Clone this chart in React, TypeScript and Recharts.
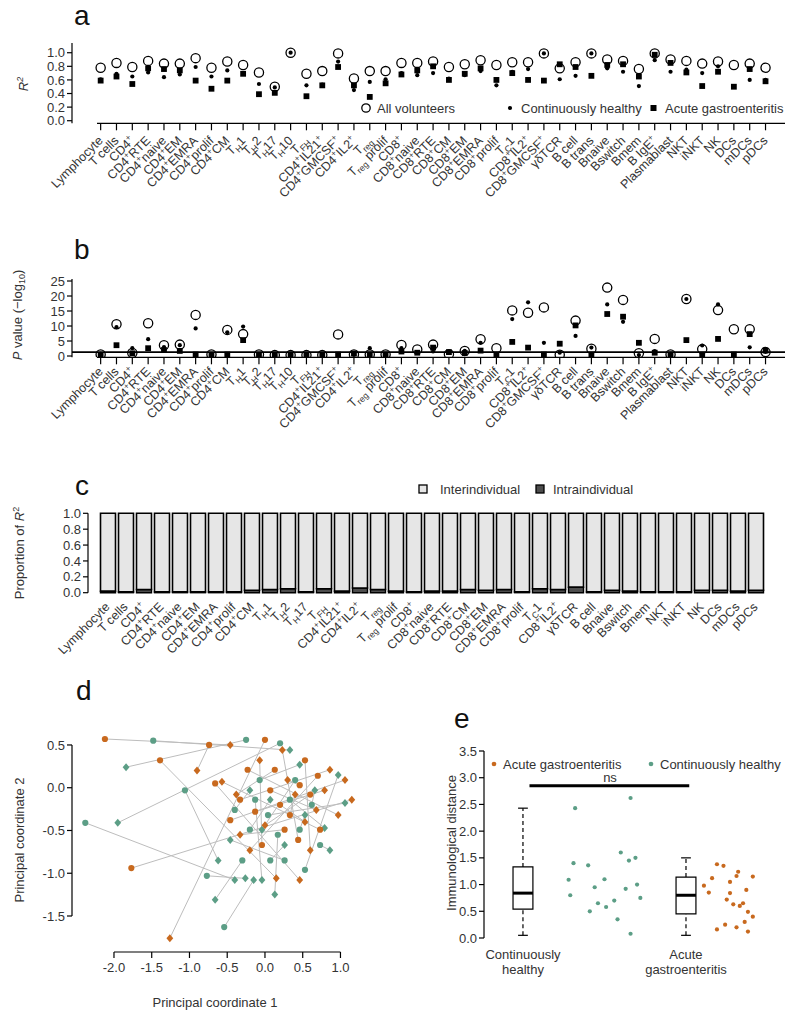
import React from "react";
import { ScatterChart, Scatter, XAxis, YAxis, ReferenceLine, ReferenceArea, BarChart, Bar } from "recharts";

const FONT = '"Liberation Sans", Arial, sans-serif';
const TXT = "#333";
const ORANGE = "#C8691E";
const GREEN = "#5C9E86";

// ---- panel a / b : cell populations ----
const cellsAB = [
  "Lymphocyte", "T cells", "CD4^{+}", "CD4^{+}RTE", "CD4^{+}naive", "CD4^{+}EM", "CD4^{+}EMRA", "CD4^{+}prolif",
  "CD4^{+}CM", "T_{H}1", "T_{H}2", "T_{H}17", "T_{H}10", "T_{FH}", "CD4^{+}IL21^{+}", "CD4^{+}GMCSF^{+}",
  "CD4^{+}IL2^{+}", "T_{reg}", "T_{reg} prolif", "CD8^{+}", "CD8^{+}naive", "CD8^{+}RTE", "CD8^{+}CM", "CD8^{+}EM",
  "CD8^{+}EMRA", "CD8^{+}prolif", "T_{C}1", "CD8^{+}IL2^{+}", "CD8^{+}GMCSF^{+}", "γδTCR", "B cell", "B trans",
  "Bnaive", "Bswitch", "Bmem", "B IgE^{+}", "Plasmablast", "NKT", "iNKT", "NK", "DCs", "mDCs", "pDCs",
];

const r2All = [0.78, 0.85, 0.79, 0.88, 0.84, 0.84, 0.92, 0.78, 0.87, 0.82, 0.71, 0.5, 1.0, 0.69, 0.73, 0.99, 0.62, 0.73, 0.73, 0.85, 0.85, 0.87, 0.79, 0.83, 0.89, 0.82, 0.86, 0.86, 0.99, 0.77, 0.86, 0.99, 0.9, 0.88, 0.76, 0.99, 0.9, 0.88, 0.84, 0.87, 0.82, 0.84, 0.78];
const r2Healthy = [0.61, 0.69, 0.65, 0.71, 0.64, 0.68, 0.79, 0.65, 0.74, 0.7, 0.54, 0.49, 1.0, 0.52, 0.53, 0.87, 0.45, 0.57, 0.61, 0.7, 0.67, 0.7, 0.62, 0.67, 0.73, 0.52, 0.72, 0.76, 0.99, 0.61, 0.66, 0.99, 0.77, 0.72, 0.51, 0.89, 0.72, 0.75, 0.7, 0.8, 0.5, 0.6, 0.6];
const r2Acute = [0.59, 0.65, 0.54, 0.77, 0.76, 0.74, 0.59, 0.47, 0.59, 0.69, 0.39, 0.41, null, 0.36, 0.52, 0.79, 0.52, 0.35, 0.55, 0.68, 0.74, 0.8, 0.6, 0.69, 0.77, 0.6, 0.7, 0.6, 0.59, 0.83, 0.79, 0.66, 0.82, 0.83, 0.65, 0.97, 0.85, 0.71, 0.51, 0.72, 0.5, 0.76, 0.58];

const pAll = [0.5, 10.6, 1.0, 10.9, 3.6, 3.8, 13.7, 0.5, 8.7, 7.3, 0.5, 0.3, 0.3, 0.3, 0.3, 7.2, 0.5, 0.5, 0.5, 3.7, 2.2, 3.8, 0.6, 1.7, 5.6, 2.6, 15.2, 14.4, 16.2, 0.4, 11.8, 2.4, 22.8, 18.7, 0.9, 5.7, 0.5, 19.0, 2.3, 15.3, 8.9, 8.9, 1.3];
const pHealthy = [0.7, 9.6, 2.6, 5.6, 3.0, 3.6, 9.2, 0.4, 7.9, 9.8, 0.4, 0.3, 0.2, 0.3, 0.3, 0.4, 0.4, 2.6, 0.4, 2.6, 1.0, 1.5, 1.3, 1.7, 4.4, 0.5, 12.3, 17.9, 4.4, 1.1, 6.7, 2.8, 17.2, 11.4, 0.3, 1.6, 0.5, 19.0, 3.5, 17.2, 0.5, 2.9, 1.4];
const pAcute = [0.3, 3.6, 0.9, 2.6, 2.0, 1.7, 0.5, 0.4, 0.5, 5.3, 0.4, 0.3, 0.2, 0.3, 0.4, 0.5, 0.8, 0.5, 0.5, 1.5, 1.1, 2.8, 1.3, 1.0, 1.8, 0.5, 4.7, 2.8, 0.5, 4.1, 10.2, 0.5, 14.0, 13.1, 4.4, 1.1, 0.5, 5.3, 0.5, 5.7, 0.5, 7.3, 1.8];
const pThreshold = 1.3;

// ---- panel c ----
const cellsC = [
  "Lymphocyte", "T cells", "CD4^{+}", "CD4^{+}RTE", "CD4^{+}naive", "CD4^{+}EM", "CD4^{+}EMRA", "CD4^{+}prolif",
  "CD4^{+}CM", "T_{H}1", "T_{H}2", "T_{H}17", "T_{FH}", "CD4^{+}IL21^{+}", "CD4^{+}IL2^{+}", "T_{reg}",
  "T_{reg} prolif", "CD8^{+}", "CD8^{+}naive", "CD8^{+}RTE", "CD8^{+}CM", "CD8^{+}EM", "CD8^{+}EMRA", "CD8^{+}prolif",
  "T_{C}1", "CD8^{+}IL2^{+}", "γδTCR", "B cell", "Bnaive", "Bswitch", "Bmem", "NKT", "iNKT", "NK", "DCs", "mDCs", "pDCs",
];
const intraC = [0.02, 0.01, 0.04, 0.01, 0.01, 0.01, 0.01, 0.01, 0.03, 0.04, 0.05, 0.01, 0.05, 0.02, 0.06, 0.04, 0.02, 0.01, 0.02, 0.02, 0.04, 0.03, 0.04, 0.01, 0.05, 0.04, 0.07, 0.01, 0.03, 0.02, 0.01, 0.01, 0.01, 0.03, 0.03, 0.02, 0.03];

// ---- panel d : PCoA, two samples per volunteer ----
const acuteX1 = [-2.12, -0.74, 0.0, -1.39, -0.66, -1.77, -0.33, -0.13, 0.07, 0.2, 0.33, 0.46, 0.6, 0.7, 0.26, -0.04, 0.44, 0.53, -0.23, -0.46, 0.13, 0.73];
const acuteY1 = [0.57, 0.5, 0.56, 0.32, 0.05, -0.94, -0.14, -0.28, -0.03, -0.2, -0.32, 0.03, -0.08, 0.14, -0.49, -0.67, -0.61, 0.32, 0.21, -0.38, 0.21, -0.49];
const acuteX2 = [-0.46, -0.9, -1.26, 0.15, 0.46, 1.15, 0.86, 0.79, 0.68, 0.53, 0.4, 0.3, 0.0, -0.2, -0.33, -0.07, 0.23, 0.6, 0.97, 1.06, -0.38, -0.57];
const acuteY2 = [0.5, 0.2, -1.76, -1.06, -1.08, -0.14, 0.21, -0.03, -0.26, -0.4, -0.08, 0.09, -0.44, -0.73, -0.55, 0.32, 0.44, -0.73, -0.32, 0.09, -0.08, 0.07];
const healthyX1 = [-1.48, -0.25, 0.2, -1.06, -2.38, -0.77, -0.54, -0.13, 0.04, 0.33, 0.46, 0.62, 0.73, 0.07, -0.2, -0.4, -0.07, 0.26, 0.53, 0.4, -0.3, 0.17];
const healthyY1 = [0.55, 0.56, 0.52, -0.03, -0.41, -1.03, -1.63, -0.14, -0.32, -0.14, -0.49, -0.2, -0.67, -0.85, -0.49, -0.26, 0.09, -0.85, -0.96, 0.09, -0.85, -0.55];
const healthyX2 = [0.33, -1.84, -1.95, -0.62, -0.4, -0.26, -0.15, -0.04, 1.06, 0.79, 0.53, 0.66, 0.86, 0.26, 0.07, -0.2, 0.46, -0.46, 0.97, -0.04, -0.66, 0.13];
const healthyY2 = [0.44, 0.24, -0.41, -0.85, -1.08, -1.06, -1.08, -1.08, -0.18, -0.47, -0.32, -0.03, -0.73, -0.67, -0.14, -0.03, 0.27, -0.61, 0.15, -0.49, -1.31, -1.25];

// ---- panel e : immunological distance ----
const groupPos = [1, 2];
const groupLabels = [["Continuously", "healthy"], ["Acute", "gastroenteritis"]];
const boxMin = [0.05, 0.05];
const boxQ1 = [0.54, 0.45];
const boxMed = [0.84, 0.8];
const boxQ3 = [1.33, 1.14];
const boxMax = [2.43, 1.5];
const healthyJx = [1.32, 1.66, 1.28, 1.29, 1.31, 1.4, 1.41, 1.46, 1.5, 1.51, 1.56, 1.6, 1.63, 1.65, 1.69, 1.72, 1.44, 1.66, 1.7, 1.58];
const healthyDist = [2.43, 2.62, 1.09, 0.8, 1.4, 1.36, 0.5, 0.65, 1.1, 0.58, 0.7, 1.6, 0.92, 1.45, 1.5, 0.75, 0.95, 0.08, 1.0, 0.35];
const acuteJx = [2.11, 2.16, 2.19, 2.23, 2.25, 2.27, 2.29, 2.31, 2.32, 2.33, 2.35, 2.37, 2.38, 2.19, 2.24, 2.31, 2.38, 2.41, 2.41, 2.14, 2.27, 2.36];
const acuteDist = [0.98, 1.12, 1.38, 1.35, 0.72, 0.84, 0.63, 1.16, 1.24, 0.6, 0.65, 0.9, 0.49, 0.16, 0.25, 0.2, 0.12, 1.15, 0.4, 0.85, 1.05, 0.3];
const nsY = 2.85;

// ---------- helpers ----------
function Rich({ text, size }: { text: string; size: number }) {
  const parts = text.split(/(\^\{[^}]*\}|_\{[^}]*\})/).filter(Boolean);
  let off = 0;
  return (
    <>
      {parts.map((p, i) => {
        let target = 0, body = p, fs = size;
        if (p.startsWith("^{")) { target = -size * 0.4; body = p.slice(2, -1); fs = size * 0.7; }
        else if (p.startsWith("_{")) { target = size * 0.25; body = p.slice(2, -1); fs = size * 0.7; }
        const dy = target - off;
        off = target;
        return <tspan key={i} dy={dy} fontSize={fs}>{body}</tspan>;
      })}
    </>
  );
}

const rotTick = (labels: string[] | null, dx: number, dy: number) => (props: any) => {
  const { x, y, payload } = props;
  const lab = labels ? labels[payload.value] : payload.value;
  if (lab === undefined) return null;
  return (
    <g transform={`translate(${x + dx},${y + dy})`}>
      <text transform="rotate(-45)" textAnchor="end" fontSize={12.5} fill={TXT} fontFamily={FONT}>
        <Rich text={lab} size={12.5} />
      </text>
    </g>
  );
};

const pts = (xs: number[], ys: (number | null)[]) =>
  xs.map((x, i) => ({ x, y: ys[i] })).filter((d) => d.y !== null);

const idx = cellsAB.map((_, i) => i);

const OpenCircle = (p: any) => <circle cx={p.cx} cy={p.cy} r={4.6} fill="none" stroke="#000" strokeWidth={1.3} />;
const SmallDot = (p: any) => <circle cx={p.cx} cy={p.cy} r={2.1} fill="#000" />;
const Square = (p: any) => <rect x={p.cx - 2.9} y={p.cy - 2.9} width={5.8} height={5.8} fill="#000" />;
const colorCircle = (c: string) => (p: any) => <circle cx={p.cx} cy={p.cy} r={3.1} fill={c} />;
const colorDiamond = (c: string) => (p: any) => (
  <polygon points={`${p.cx},${p.cy - 4} ${p.cx + 3.4},${p.cy} ${p.cx},${p.cy + 4} ${p.cx - 3.4},${p.cy}`} fill={c} />
);
const NoShape = () => <g />;

const yTick = { fontSize: 13, fill: TXT, fontFamily: FONT };
const axisStroke = { stroke: "#000", strokeWidth: 1.2 };

const xDomAB: [number, number] = [-1.81, 43.23];
const yDomA: [number, number] = [-0.038, 1.143];
const yDomB: [number, number] = [-0.43, 25.67];

function PanelAB({ top, yDom, ticks, fmt, all, healthy, acute, xAxisH, marginTop, threshold, labelDy }: any) {
  return (
    <div style={{ position: "absolute", left: 0, top }}>
      <ScatterChart width={800} height={200} margin={{ top: marginTop, right: 15, bottom: 0, left: 42 }}>
        <XAxis type="number" dataKey="x" domain={xDomAB} allowDataOverflow ticks={idx} interval={0}
          height={xAxisH} axisLine={false} tickLine={axisStroke} tickSize={7} tick={rotTick(cellsAB, 3, labelDy)} />
        <YAxis type="number" dataKey="y" domain={yDom} allowDataOverflow ticks={ticks} interval={0} width={30}
          axisLine={axisStroke} tickLine={axisStroke} tickSize={5} tick={yTick} tickFormatter={fmt} />
        <ReferenceLine segment={[{ x: -0.23, y: yDom[0] }, { x: 43.23, y: yDom[0] }]} stroke="#000" strokeWidth={1.2} ifOverflow="visible" />
        {threshold !== undefined && <ReferenceLine y={threshold} stroke="#000" strokeWidth={1.6} />}
        <Scatter data={pts(idx, all)} shape={OpenCircle} isAnimationActive={false} />
        <Scatter data={pts(idx, healthy)} shape={SmallDot} isAnimationActive={false} />
        <Scatter data={pts(idx, acute)} shape={Square} isAnimationActive={false} />
      </ScatterChart>
    </div>
  );
}

const barData = cellsC.map((c, i) => ({ cell: c, intra: intraC[i], inter: 1 - intraC[i] }));

const xDomD: [number, number] = [-2.556, 1.325];
const yDomD: [number, number] = [-1.921, 0.675];
const xDomE: [number, number] = [0.761, 2.638];

export default function App() {
  const groupTick = (props: any) => {
    const { x, y, payload } = props;
    const k = groupPos.indexOf(payload.value);
    if (k < 0) return null;
    return (
      <text x={x} y={y} textAnchor="middle" fontSize={13} fill={TXT} fontFamily={FONT}>
        <tspan x={x} dy={13}>{groupLabels[k][0]}</tspan>
        <tspan x={x} dy={15}>{groupLabels[k][1]}</tspan>
      </text>
    );
  };

  return (
    <div style={{ position: "absolute", left: 0, top: 0, width: 800, height: 1013, background: "#fff", fontFamily: FONT }}>
      {/* a */}
      <PanelAB top={0} yDom={yDomA} ticks={[0, 0.2, 0.4, 0.6, 0.8, 1.0]} fmt={(v: number) => v.toFixed(1)}
        all={r2All} healthy={r2Healthy} acute={r2Acute} xAxisH={76.7} marginTop={43} labelDy={9} />
      {/* b */}
      <PanelAB top={230} yDom={yDomB} ticks={[0, 5, 10, 15, 20, 25]} fmt={(v: number) => String(v)}
        all={pAll} healthy={pHealthy} acute={pAcute} xAxisH={72.7} marginTop={49} threshold={pThreshold} labelDy={6} />

      {/* c */}
      <div style={{ position: "absolute", left: 0, top: 470 }}>
        <BarChart width={800} height={210} data={barData} margin={{ top: 43.3, right: 35.5, bottom: 0, left: 58 }}>
          <XAxis dataKey="cell" interval={0} height={87.3} padding={{ left: 10.5, right: 0 }} axisLine={false}
            tickLine={false} tick={rotTick(null, 3, 7)} />
          <YAxis type="number" domain={[0, 1]} ticks={[0, 0.2, 0.4, 0.6, 0.8, 1.0]} interval={0} width={30} axisLine={axisStroke}
            tickLine={axisStroke} tickSize={5} tick={yTick} tickFormatter={(v: number) => v.toFixed(1)} />
          <Bar dataKey="intra" stackId="s" fill="#4d4d4d" stroke="#000" strokeWidth={1.4} barSize={15} isAnimationActive={false} />
          <Bar dataKey="inter" stackId="s" fill="#e6e6e6" stroke="#000" strokeWidth={1.6} barSize={15} isAnimationActive={false} />
        </BarChart>
      </div>

      {/* d */}
      <div style={{ position: "absolute", left: 0, top: 700 }}>
        <ScatterChart width={380} height={313} margin={{ top: 30, right: 15, bottom: 0, left: 40 }}>
          <XAxis type="number" dataKey="x" domain={xDomD} allowDataOverflow ticks={[-2, -1.5, -1, -0.5, 0, 0.5, 1]}
            interval={0} height={61} axisLine={false} tickLine={axisStroke} tickSize={6} tickMargin={5} tick={yTick}
            tickFormatter={(v: number) => v.toFixed(1)} />
          <YAxis type="number" dataKey="y" domain={yDomD} allowDataOverflow ticks={[-1.5, -1, -0.5, 0, 0.5]} interval={0}
            width={32} axisLine={false} tickLine={axisStroke} tickSize={5} tick={yTick} tickFormatter={(v: number) => v.toFixed(1)} />
          <ReferenceLine segment={[{ x: -2, y: yDomD[0] }, { x: 1, y: yDomD[0] }]} stroke="#000" strokeWidth={1.2} ifOverflow="visible" />
          <ReferenceLine segment={[{ x: xDomD[0], y: -1.5 }, { x: xDomD[0], y: 0.5 }]} stroke="#000" strokeWidth={1.2} ifOverflow="visible" />
          {acuteX1.map((_, i) => (
            <Scatter key={"al" + i} data={[{ x: acuteX1[i], y: acuteY1[i] }, { x: acuteX2[i], y: acuteY2[i] }]}
              line={{ stroke: "#bdbdbd", strokeWidth: 1 }} lineType="joint" shape={NoShape} isAnimationActive={false} />
          ))}
          {healthyX1.map((_, i) => (
            <Scatter key={"hl" + i} data={[{ x: healthyX1[i], y: healthyY1[i] }, { x: healthyX2[i], y: healthyY2[i] }]}
              line={{ stroke: "#bdbdbd", strokeWidth: 1 }} lineType="joint" shape={NoShape} isAnimationActive={false} />
          ))}
          <Scatter data={pts(healthyX1, healthyY1)} shape={colorCircle(GREEN)} isAnimationActive={false} />
          <Scatter data={pts(healthyX2, healthyY2)} shape={colorDiamond(GREEN)} isAnimationActive={false} />
          <Scatter data={pts(acuteX1, acuteY1)} shape={colorCircle(ORANGE)} isAnimationActive={false} />
          <Scatter data={pts(acuteX2, acuteY2)} shape={colorDiamond(ORANGE)} isAnimationActive={false} />
        </ScatterChart>
      </div>

      {/* e */}
      <div style={{ position: "absolute", left: 400, top: 700 }}>
        <ScatterChart width={400} height={313} margin={{ top: 51, right: 10, bottom: 0, left: 50 }}>
          <XAxis type="number" dataKey="x" domain={xDomE} allowDataOverflow ticks={groupPos} interval={0} height={75}
            axisLine={false} tickLine={false} tick={groupTick} />
          <YAxis type="number" dataKey="y" domain={[0, 3.5]} allowDataOverflow ticks={[0, 0.5, 1, 1.5, 2, 2.5, 3, 3.5]}
            interval={0} width={34} axisLine={axisStroke} tickLine={axisStroke} tickSize={5} tick={yTick}
            tickFormatter={(v: number) => v.toFixed(1)} />
          {groupPos.map((g, k) => (
            <ReferenceLine key={"wu" + k} segment={[{ x: g, y: boxQ3[k] }, { x: g, y: boxMax[k] }]} stroke="#000" strokeWidth={1.2} strokeDasharray="4 3" />
          ))}
          {groupPos.map((g, k) => (
            <ReferenceLine key={"wl" + k} segment={[{ x: g, y: boxMin[k] }, { x: g, y: boxQ1[k] }]} stroke="#000" strokeWidth={1.2} strokeDasharray="4 3" />
          ))}
          {groupPos.map((g, k) => (
            <ReferenceLine key={"cu" + k} segment={[{ x: g - 0.03, y: boxMax[k] }, { x: g + 0.03, y: boxMax[k] }]} stroke="#000" strokeWidth={1.2} />
          ))}
          {groupPos.map((g, k) => (
            <ReferenceLine key={"cl" + k} segment={[{ x: g - 0.03, y: boxMin[k] }, { x: g + 0.03, y: boxMin[k] }]} stroke="#000" strokeWidth={1.2} />
          ))}
          {groupPos.map((g, k) => (
            <ReferenceArea key={"bx" + k} x1={g - 0.061} x2={g + 0.061} y1={boxQ1[k]} y2={boxQ3[k]} fill="#fff" fillOpacity={1} stroke="#000" strokeWidth={1.2} />
          ))}
          {groupPos.map((g, k) => (
            <ReferenceLine key={"md" + k} segment={[{ x: g - 0.061, y: boxMed[k] }, { x: g + 0.061, y: boxMed[k] }]} stroke="#000" strokeWidth={3} />
          ))}
          <ReferenceLine segment={[{ x: 1.04, y: nsY }, { x: 2.02, y: nsY }]} stroke="#000" strokeWidth={3} />
          <Scatter data={pts(healthyJx, healthyDist)} shape={(p: any) => <circle cx={p.cx} cy={p.cy} r={2.1} fill={GREEN} />} isAnimationActive={false} />
          <Scatter data={pts(acuteJx, acuteDist)} shape={(p: any) => <circle cx={p.cx} cy={p.cy} r={2.1} fill={ORANGE} />} isAnimationActive={false} />
        </ScatterChart>
      </div>

      {/* texts, legends */}
      <svg width={800} height={1013} style={{ position: "absolute", left: 0, top: 0, pointerEvents: "none" }} fontFamily={FONT}>
        <text x={74} y={25} fontSize={28} fill="#111">a</text>
        <text x={74} y={259} fontSize={28} fill="#111">b</text>
        <text x={75} y={495} fontSize={28} fill="#111">c</text>
        <text x={76} y={700} fontSize={28} fill="#111">d</text>
        <text x={454} y={728} fontSize={28} fill="#111">e</text>

        <text transform="translate(28,84) rotate(-90)" textAnchor="middle" fontSize={13} fill={TXT} fontStyle="italic">
          R<tspan dy={-5} fontSize={9}>2</tspan>
        </text>
        <text transform="translate(22,315) rotate(-90)" textAnchor="middle" fontSize={13} fill={TXT}>
          <tspan fontStyle="italic">P</tspan> value (−log<tspan dy={3} fontSize={9}>10</tspan><tspan dy={-3}>)</tspan>
        </text>
        <text transform="translate(24,553) rotate(-90)" textAnchor="middle" fontSize={13} fill={TXT}>
          Proportion of <tspan fontStyle="italic">R</tspan><tspan dy={-5} fontSize={9}>2</tspan>
        </text>
        <text transform="translate(24,840) rotate(-90)" textAnchor="middle" fontSize={13} fill={TXT}>Principal coordinate 2</text>
        <text x={215} y={1007} textAnchor="middle" fontSize={13} fill={TXT}>Principal coordinate 1</text>
        <text transform="translate(456,843) rotate(-90)" textAnchor="middle" fontSize={13} fill={TXT}>Immunological distance</text>

        {/* legend a */}
        <circle cx={366} cy={108} r={4.2} fill="none" stroke="#000" strokeWidth={1.3} />
        <text x={377} y={112.5} fontSize={13} fill={TXT}>All volunteers</text>
        <circle cx={510} cy={108} r={2.1} fill="#000" />
        <text x={521} y={112.5} fontSize={13} fill={TXT}>Continuously healthy</text>
        <rect x={650.5} y={105} width={6} height={6} fill="#000" />
        <text x={665} y={112.5} fontSize={13} fill={TXT}>Acute gastroenteritis</text>

        {/* legend c */}
        <rect x={419} y={485} width={8} height={8} fill="#e6e6e6" stroke="#000" strokeWidth={1.3} />
        <text x={440} y={494} fontSize={13} fill={TXT}>Interindividual</text>
        <rect x={536} y={485} width={8} height={8} fill="#4d4d4d" stroke="#000" strokeWidth={1.3} />
        <text x={553} y={494} fontSize={13} fill={TXT}>Intraindividual</text>

        {/* legend e */}
        <circle cx={494} cy={764} r={2.3} fill={ORANGE} />
        <text x={503} y={768.5} fontSize={13} fill={TXT}>Acute gastroenteritis</text>
        <circle cx={651} cy={764} r={2.3} fill={GREEN} />
        <text x={660} y={768.5} fontSize={13} fill={TXT}>Continuously healthy</text>
        <text x={610} y={782} textAnchor="middle" fontSize={13} fill={TXT}>ns</text>
      </svg>
    </div>
  );
}
